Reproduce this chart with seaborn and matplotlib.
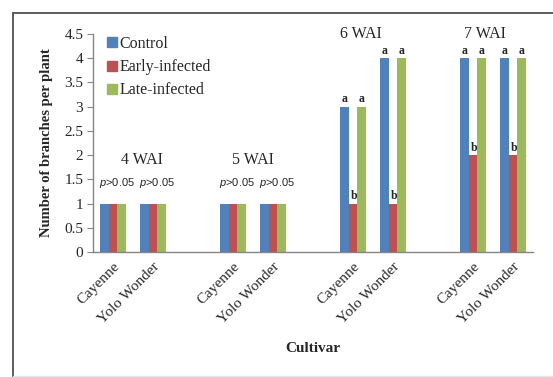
import matplotlib
matplotlib.use("Agg")
import matplotlib.pyplot as plt
from matplotlib.lines import Line2D
import seaborn as sns
import pandas as pd

# ---- data ----
periods = ["4 WAI", "5 WAI", "6 WAI", "7 WAI"]
cultivars = ["Cayenne", "Yolo Wonder"]
treatments = ["Control", "Early-infected", "Late-infected"]
control = [[1, 1], [1, 1], [3, 4], [4, 4]]
early = [[1, 1], [1, 1], [1, 1], [2, 2]]
late = [[1, 1], [1, 1], [3, 4], [4, 4]]
sig_control = [["", ""], ["", ""], ["a", "a"], ["a", "a"]]
sig_early = [["", ""], ["", ""], ["b", "b"], ["b", "b"]]
sig_late = [["", ""], ["", ""], ["a", "a"], ["a", "a"]]
p_labels = [["p>0.05", "p>0.05"], ["p>0.05", "p>0.05"], ["", ""], ["", ""]]
colors = ["#4F81BD", "#C0504D", "#9BBB59"]

# ---- build table ----
rows = []
order = []
tick_labels = []
for i, per in enumerate(periods):
    for j, cv in enumerate(cultivars):
        slot = f"{per} {cv}"
        order.append(slot)
        tick_labels.append(cv)
        for t, vals in zip(treatments, [control, early, late]):
            rows.append({"slot": slot, "Treatment": t, "value": vals[i][j]})
    if i < len(periods) - 1:
        order.append(f"gap{i}")
        tick_labels.append("")
df = pd.DataFrame(rows)

sns.set_style("white")
plt.rcParams["font.family"] = ["Liberation Serif", "DejaVu Serif"]
plt.rcParams["mathtext.fontset"] = "custom"
plt.rcParams["mathtext.it"] = "Liberation Sans:italic"
plt.rcParams["mathtext.rm"] = "Liberation Sans"

fig = plt.figure(figsize=(5.53, 3.77), dpi=100)
ax = fig.add_axes([93 / 553, 1 - 252 / 377, 440 / 553, 218 / 377])

sns.barplot(data=df, x="slot", y="value", hue="Treatment", order=order,
            hue_order=treatments, palette=colors, width=0.65, saturation=1,
            linewidth=0, ax=ax, legend=False)

ax.set_xlim(-0.5, len(order) - 0.5)
ax.set_ylim(0, 4.5)
yt = [i * 0.5 for i in range(10)]
ax.set_yticks(yt)
ax.set_yticklabels([f"{v:g}" for v in yt], fontsize=11)
ax.set_xticks(range(len(order)))
ax.set_xticklabels(tick_labels, rotation=45, ha="right", rotation_mode="anchor",
                   fontsize=11)
ax.set_xticks([k - 0.5 for k in range(len(order) + 1)], minor=True)
ax.tick_params(axis="x", which="major", length=0, pad=6)
ax.tick_params(axis="x", which="minor", length=4, color="#868686", direction="out")
ax.tick_params(axis="y", length=4, color="#868686", direction="out", left=True, pad=3)

for s in ["top", "right"]:
    ax.spines[s].set_visible(False)
for s in ["left", "bottom"]:
    ax.spines[s].set_color("#868686")
    ax.spines[s].set_linewidth(1)

ax.set_ylabel("Number of branches per plant", fontsize=10.5, fontweight="bold", labelpad=8)
ax.set_xlabel("")
fig.text(313 / 553, 1 - 348 / 377, "Cultivar", ha="center", va="center",
         fontsize=11, fontweight="bold")

# legend
handles = [Line2D([], [], marker="s", ls="", color=c, markersize=6.5) for c in colors]
ax.legend(handles, treatments, loc="upper left", bbox_to_anchor=(0.01, 1.02),
          frameon=False, fontsize=11.5, handletextpad=0.0, labelspacing=0.45,
          handlelength=1.0, borderaxespad=0)

# annotations
bw = 0.65 / 3
period_pos = [(0.72, 1.9), (3.5, 1.9), (6.2, 4.5), (9.3, 4.5)]
for i, per in enumerate(periods):
    px, py = period_pos[i]
    ax.text(px, py, per, ha="center", va="center", fontsize=11.5, clip_on=False)
    for j in range(2):
        slot_idx = order.index(f"{per} {cultivars[j]}")
        if p_labels[i][j]:
            ax.text(slot_idx + 0.1, 1.42, "$p$>0.05", ha="center", va="center",
                    fontsize=8, family="Liberation Sans")
        for k, (vals, sig) in enumerate(zip([control, early, late],
                                           [sig_control, sig_early, sig_late])):
            if sig[i][j]:
                ax.text(slot_idx + (k - 1) * bw + (0.03 if k == 1 else 0),
                        vals[i][j] + 0.03, sig[i][j], ha="center", va="bottom",
                        fontsize=8.5, fontweight="bold", clip_on=False)

# outer frame
fig.add_artist(Line2D([12.5 / 553, 1], [1 - 12.5 / 377] * 2, color="#505050", lw=1.3))
fig.add_artist(Line2D([12.5 / 553] * 2, [0, 1 - 12.5 / 377], color="#505050", lw=1.3))
fig.add_artist(Line2D([12.5 / 553, 1], [1.5 / 377] * 2, color="#e6e6e6", lw=1))

fig.savefig("out.png", dpi=100)
